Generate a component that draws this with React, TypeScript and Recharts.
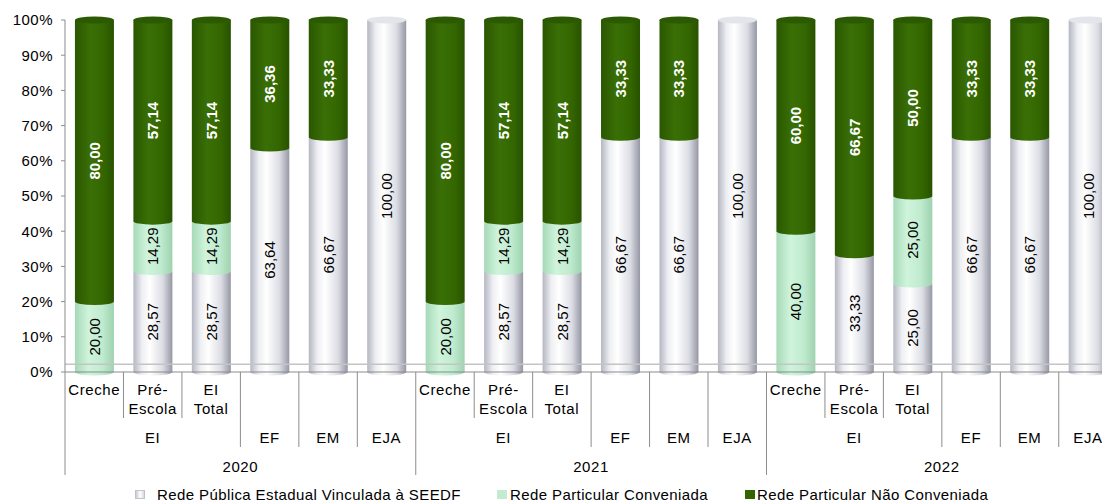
import React from "react";
import { BarChart, Bar, XAxis, YAxis, LabelList, ReferenceLine } from "recharts";

const years = ["2020", "2021", "2022"];
const groups = ["EI", "EI", "EI", "EF", "EM", "EJA"];
const stages = ["Creche", "Pré-\nEscola", "EI\nTotal", "", "", ""];

const publica = [0, 28.57, 28.57, 63.64, 66.67, 100, 0, 28.57, 28.57, 66.67, 66.67, 100, 0, 33.33, 25, 66.67, 66.67, 100];
const conveniada = [20, 14.29, 14.29, 0, 0, 0, 20, 14.29, 14.29, 0, 0, 0, 40, 0, 25, 0, 0, 0];
const naoConveniada = [80, 57.14, 57.14, 36.36, 33.33, 0, 80, 57.14, 57.14, 33.33, 33.33, 0, 60, 66.67, 50, 33.33, 33.33, 0];

const yTicks = [0, 10, 20, 30, 40, 50, 60, 70, 80, 90, 100];

const series = [
  { key: "publica", name: "Rede Pública Estadual Vinculada à SEEDF", grad: "gPub", cap: "#e4e5ea", text: "#000", bold: false, swatch: "linear-gradient(90deg,#c9cbd4,#ffffff 50%,#d8dae0)" },
  { key: "conveniada", name: "Rede Particular Conveniada", grad: "gConv", cap: "#bfe9cd", text: "#000", bold: false, swatch: "#c2ebd1" },
  { key: "naoConveniada", name: "Rede Particular Não Conveniada", grad: "gNao", cap: "#2c5a02", text: "#fff", bold: true, swatch: "#336600" },
];

const data = publica.map((_, i) => ({
  id: `${years[Math.floor(i / 6)]}-${i % 6}`,
  year: years[Math.floor(i / 6)],
  group: groups[i % 6],
  stage: stages[i % 6],
  publica: publica[i],
  conveniada: conveniada[i],
  naoConveniada: naoConveniada[i],
}));

const FONT = "'Liberation Sans', Arial, sans-serif";
const LEFT = 65;
const BAND = 58.4;
const TOP = 20;
const AXIS_H = 131;
const CHART_W = LEFT + BAND * data.length + 1;
const CHART_H = 503;

const fmt = (v: number) => v.toFixed(2).replace(".", ",");

function topKey(row: any) {
  let last = "";
  series.forEach((s) => { if (row[s.key] > 0) last = s.key; });
  return last;
}

const makeShape = (key: string, grad: string, cap: string) => (props: any) => {
  const { x, y, width, height, payload } = props;
  if (!height || height <= 0) return <g />;
  const rx = width / 2;
  const ry = 3.5;
  const isTop = topKey(payload) === key;
  return (
    <g>
      <path
        d={`M${x},${y} L${x},${y + height} A${rx},${ry} 0 0 0 ${x + width},${y + height} L${x + width},${y} Z`}
        fill={`url(#${grad})`}
      />
      {isTop && <ellipse cx={x + rx} cy={y} rx={rx} ry={ry} fill={cap} />}
    </g>
  );
};

const makeLabel = (color: string, bold: boolean) => (props: any) => {
  const { x, y, width, height, value } = props;
  if (!value) return null;
  const cx = x + width / 2;
  const cy = y + height / 2;
  return (
    <text
      x={cx}
      y={cy}
      transform={`rotate(-90 ${cx} ${cy})`}
      textAnchor="middle"
      dominantBaseline="central"
      fill={color}
      fontSize={15}
      fontWeight={bold ? 700 : 400}
      fontFamily={FONT}
    >
      {fmt(value)}
    </text>
  );
};

function XTick(props: any) {
  const { x, y, index } = props;
  const row = data[index];
  if (!row) return null;
  const pos = index % 6;
  const left = x - BAND / 2;
  const sep = pos === 0 ? 103 : pos >= 3 ? 75 : 46;
  const lines = row.stage ? row.stage.split("\n") : [];
  const isLast = index === data.length - 1;
  return (
    <g fontFamily={FONT} fontSize={15} fill="#000" letterSpacing={0.6}>
      <line x1={left} y1={y} x2={left} y2={y + sep} stroke="#8c8c8c" />
      {isLast && <line x1={x + BAND / 2} y1={y} x2={x + BAND / 2} y2={y + 103} stroke="#8c8c8c" />}
      {lines.map((l: string, i: number) => (
        <text key={i} x={x} y={y + 23 + i * 19} textAnchor="middle">{l}</text>
      ))}
      {(pos >= 3 || pos === 1) && (
        <text x={x} y={y + 71} textAnchor="middle">{row.group}</text>
      )}
      {pos === 2 && (
        <text x={x + BAND / 2} y={y + 100} textAnchor="middle">{row.year}</text>
      )}
    </g>
  );
}

export default function App() {
  return (
    <div style={{ position: "absolute", left: 0, top: 0, width: 1102, height: 503, overflow: "hidden", background: "#fff" }}>
      <BarChart
        width={CHART_W}
        height={CHART_H}
        data={data}
        barCategoryGap="17%"
        margin={{ top: TOP, right: 0, bottom: 0, left: 0 }}
      >
        <defs>
          <linearGradient id="gPub" x1="0" y1="0" x2="1" y2="0">
            <stop offset="0%" stopColor="#b4b6c2" />
            <stop offset="22%" stopColor="#eeeff3" />
            <stop offset="42%" stopColor="#ffffff" />
            <stop offset="75%" stopColor="#dcdde4" />
            <stop offset="100%" stopColor="#9597a4" />
          </linearGradient>
          <linearGradient id="gConv" x1="0" y1="0" x2="1" y2="0">
            <stop offset="0%" stopColor="#a6d9b7" />
            <stop offset="35%" stopColor="#cff4dc" />
            <stop offset="70%" stopColor="#c0ebcf" />
            <stop offset="100%" stopColor="#9fd2b0" />
          </linearGradient>
          <linearGradient id="gNao" x1="0" y1="0" x2="1" y2="0">
            <stop offset="0%" stopColor="#2a5700" />
            <stop offset="40%" stopColor="#3a6f06" />
            <stop offset="75%" stopColor="#336600" />
            <stop offset="100%" stopColor="#285200" />
          </linearGradient>
        </defs>
        <XAxis
          dataKey="id"
          interval={0}
          height={AXIS_H}
          tickSize={0}
          tickMargin={0}
          tick={<XTick />}
          axisLine={{ stroke: "#8c8c8c" }}
        />
        <YAxis
          width={LEFT}
          domain={[0, 100]}
          ticks={yTicks}
          tickFormatter={(v: number) => `${v}%`}
          tickSize={4}
          tickMargin={8}
          axisLine={{ stroke: "#8c8c8c" }}
          tickLine={{ stroke: "#8c8c8c" }}
          tick={{ fontSize: 15, fill: "#000", fontFamily: FONT, letterSpacing: 0.5 }}
        />
        <ReferenceLine y={2.2} stroke="#c4c4c4" strokeWidth={1.5} />
        {series.map((s) => (
          <Bar
            key={s.key}
            dataKey={s.key}
            name={s.name}
            stackId="a"
            isAnimationActive={false}
            shape={makeShape(s.key, s.grad, s.cap)}
          >
            <LabelList dataKey={s.key} content={makeLabel(s.text, s.bold)} />
          </Bar>
        ))}
      </BarChart>
      <div style={{ position: "absolute", top: 486, left: 0, width: 1102, height: 18, fontFamily: FONT, fontSize: 15, letterSpacing: 0.4, color: "#000" }}>
        {series.map((s, i) => (
          <div key={s.key} style={{ position: "absolute", left: [135, 497, 745][i], top: 0, display: "flex", alignItems: "center", whiteSpace: "nowrap" }}>
            <span style={{ display: "inline-block", width: 10, height: 9, background: s.swatch, marginRight: [12, 3, 2][i], border: i === 0 ? "1px solid #c0c2cc" : "none", boxSizing: "border-box" }} />
            <span style={{ lineHeight: "17px" }}>{s.name}</span>
          </div>
        ))}
      </div>
    </div>
  );
}
